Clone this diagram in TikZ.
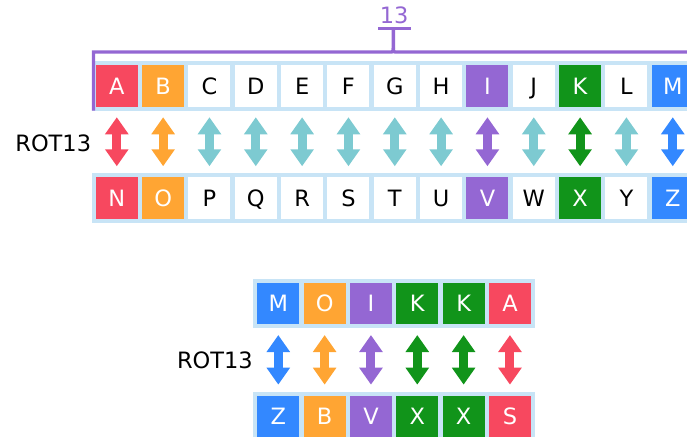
\documentclass[tikz,border=0pt]{standalone}
\usepackage{fontspec}
\setmainfont{DejaVu Sans}
\usetikzlibrary{arrows.meta}

\definecolor{cred}{HTML}{F7485F}
\definecolor{corange}{HTML}{FFA533}
\definecolor{cpurple}{HTML}{9467D3}
\definecolor{cgreen}{HTML}{11941A}
\definecolor{cblue}{HTML}{3388FF}
\definecolor{cteal}{HTML}{7DCAD1}
\definecolor{cstrip}{HTML}{C8E4F6}

\begin{document}
\begin{tikzpicture}[x=1pt,y=-1pt,
  cell/.style={minimum width=42pt, minimum height=41.5pt, inner sep=0pt,
    font=\fontsize{22.5}{22.5}\selectfont, text height=16.4pt, text depth=0pt},
  strip/.style={fill=cstrip},
  swap/.style={line width=9pt, draw=#1,
    {Triangle[width=22.5pt,length=17pt]}-{Triangle[width=22.5pt,length=17pt]},
    shorten <=10.4pt, shorten >=10.8pt},
  label/.style={inner sep=0pt, font=\fontsize{22.5}{22.5}\selectfont},
  bracket/.style={draw=cpurple, line width=3.4pt}
]
\useasboundingbox (0,0) rectangle (687,436);
\clip (0,0) rectangle (687,436);

% --- alphabet table ---
\fill[strip] (91.7,61) rectangle (697.5,110.5);
\fill[strip] (91.7,173.4) rectangle (697.5,222.6);

\foreach \i/\up/\dn/\fc/\tc/\ac in {
  0/A/N/cred/white/cred, 1/B/O/corange/white/corange,
  2/C/P/white/black/cteal, 3/D/Q/white/black/cteal,
  4/E/R/white/black/cteal, 5/F/S/white/black/cteal,
  6/G/T/white/black/cteal, 7/H/U/white/black/cteal,
  8/I/V/cpurple/white/cpurple, 9/J/W/white/black/cteal,
  10/K/X/cgreen/white/cgreen, 11/L/Y/white/black/cteal,
  12/M/Z/cblue/white/cblue} {
  \node[cell, fill=\fc, text=\tc] (t\i) at ({116.8+46.33*\i},85.9) {\up};
  \node[cell, fill=\fc, text=\tc] (b\i) at ({116.8+46.33*\i},198) {\dn};
  \draw[swap=\ac] (t\i.south) -- (b\i.north);
}

\node[label, anchor=base east] (rotA) at (91.3,151) {ROT13};

% --- bracket spanning thirteen letters ---
\draw[bracket] (93.5,110.5) -- (93.5,52) -- (389.3,52)
  .. controls (393.3,52) .. (393.3,48) -- (393.3,28.3);
\draw[bracket] (393.3,48) .. controls (393.3,52) .. (397.3,52) -- (697,52);
\draw[bracket] (378,28.3) -- (410.7,28.3);
\node[inner sep=0pt, anchor=base, text=cpurple,
  font=\fontsize{22.5}{22.5}\selectfont] (shift) at (394.2,23.5) {13};

% --- example word ---
\fill[strip] (253.3,279) rectangle (535,328.3);
\fill[strip] (253.3,391.7) rectangle (535,440);

\foreach \k/\up/\dn/\fc in {
  0/M/Z/cblue, 1/O/B/corange, 2/I/V/cpurple,
  3/K/X/cgreen, 4/K/X/cgreen, 5/A/S/cred} {
  \node[cell, fill=\fc, text=white] (u\k) at ({278.3+46.33*\k},303.7) {\up};
  \node[cell, fill=\fc, text=white] (v\k) at ({278.3+46.33*\k},416.4) {\dn};
  \draw[swap=\fc] (u\k.south) -- (v\k.north);
}

\node[label, anchor=base east] (rotB) at (253,368.3) {ROT13};
\end{tikzpicture}
\end{document}
